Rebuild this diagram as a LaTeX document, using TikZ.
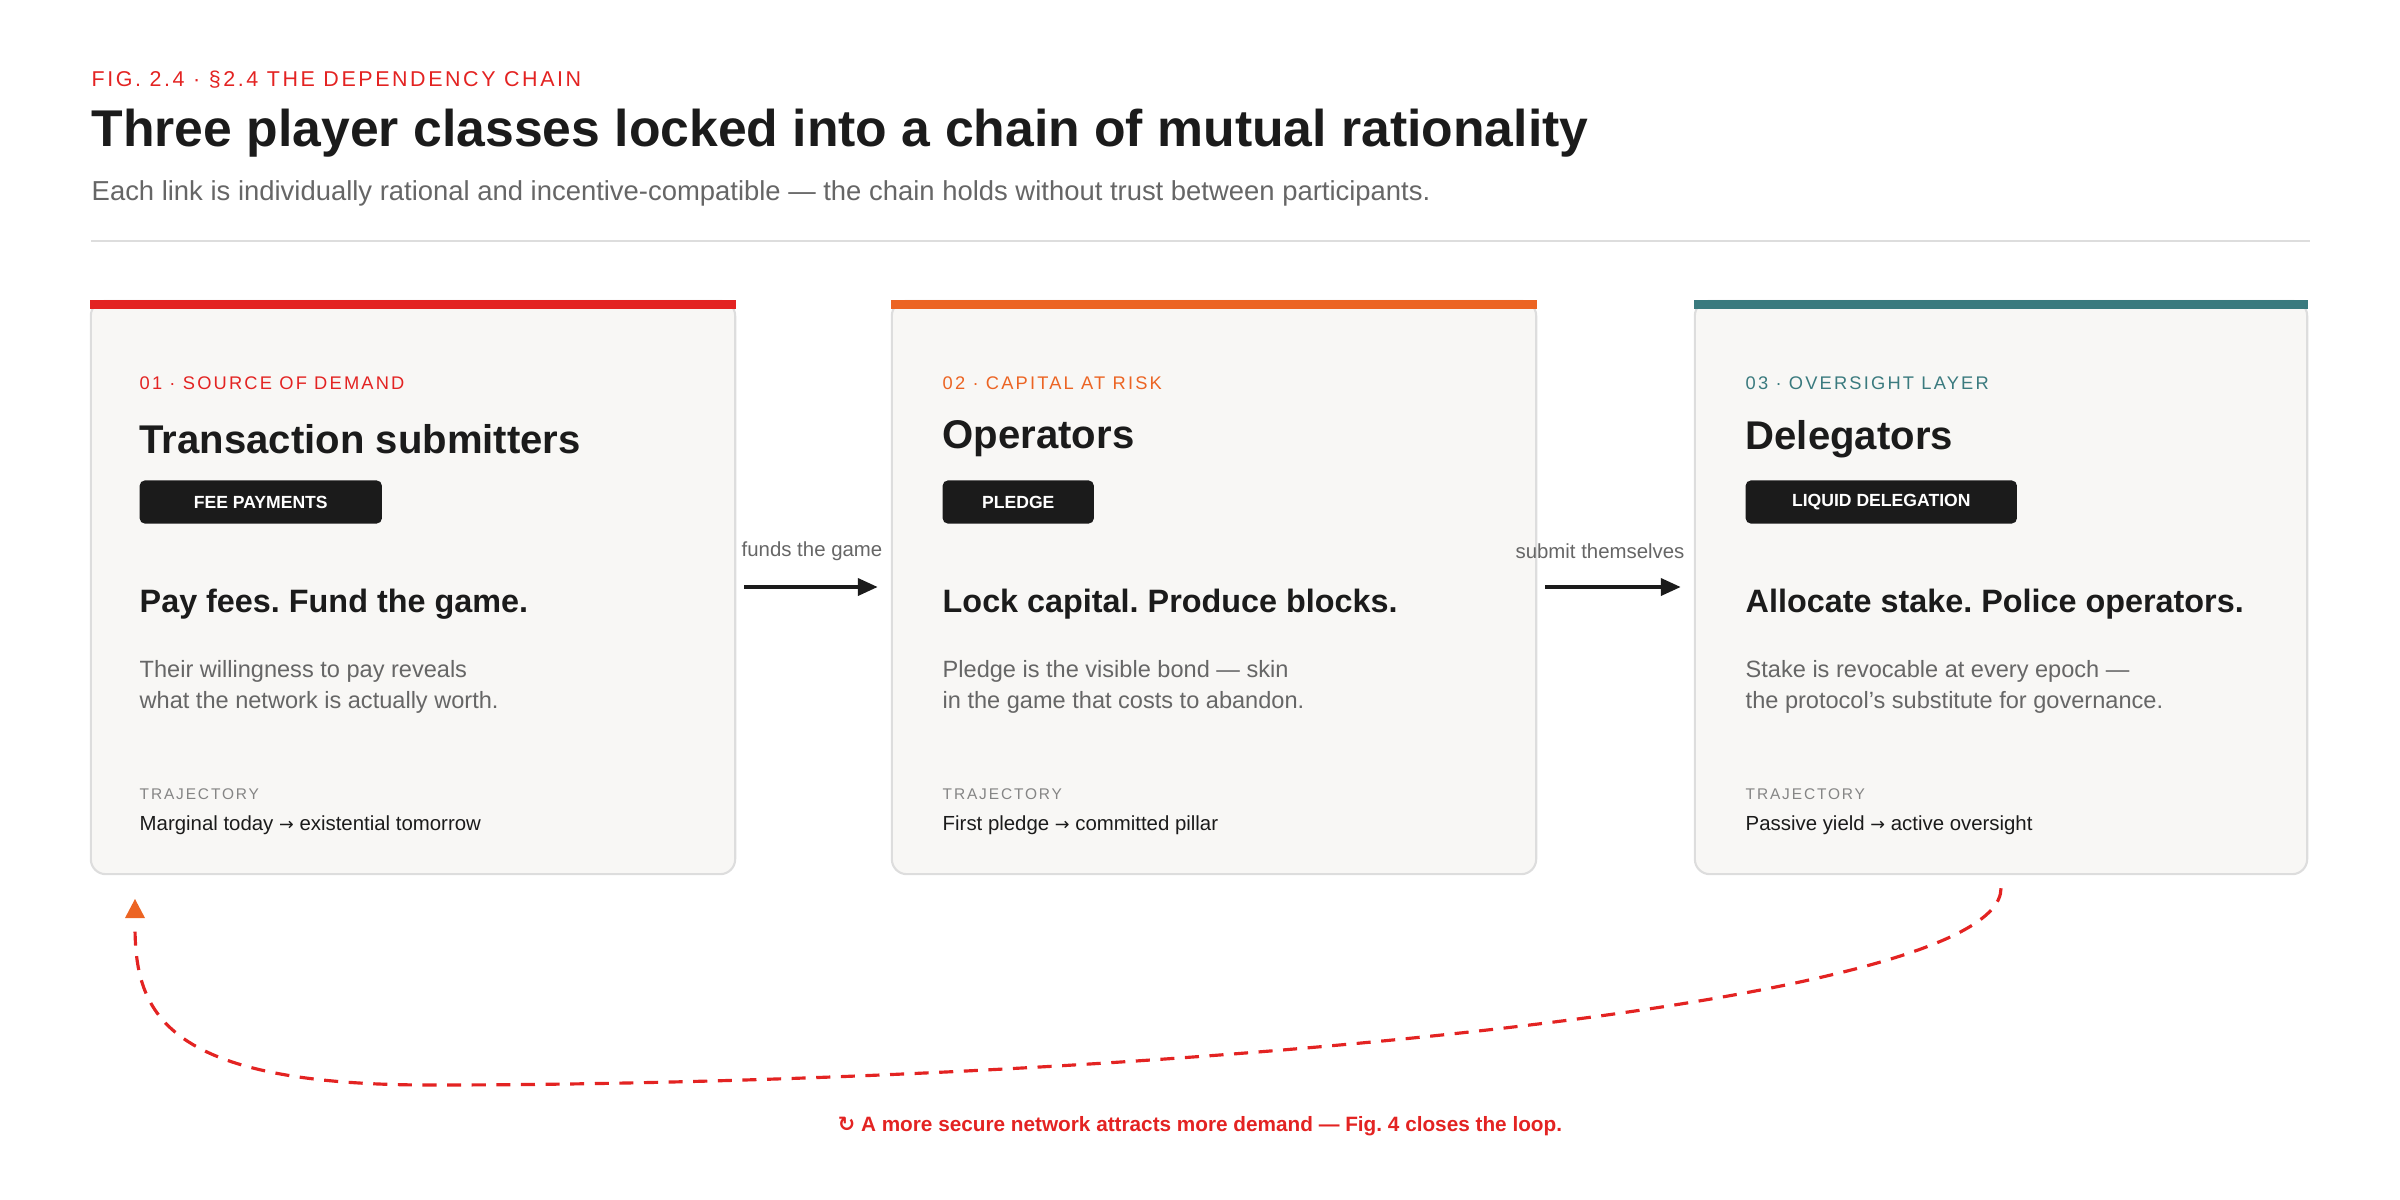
\documentclass[tikz,border=0pt]{standalone}
\usepackage{fontspec}
\setmainfont{Liberation Sans}
\newfontfamily\spaced[LetterSpace=12]{Liberation Sans}
\newfontfamily\symb{DejaVu Sans}
\usepackage{xcolor}
\definecolor{Red}{HTML}{E32322}
\definecolor{Orange}{HTML}{EC6423}
\definecolor{Teal}{HTML}{3A7A7E}
\definecolor{Paper}{HTML}{F8F7F5}
\definecolor{Edge}{HTML}{DDDDDD}
\definecolor{Ink}{HTML}{1B1B1B}
\definecolor{Grey}{HTML}{666666}
\usetikzlibrary{positioning,arrows.meta}
\newcommand{\toarrow}{{\symb\fontsize{5}{6}\selectfont →}}
\tikzset{
	card/.style={draw=Edge, line width=0.6pt, fill=Paper, rounded corners=0.15cm, minimum width=6.44cm, minimum height=5.73cm, inner sep=0pt},
	tag/.style={anchor=west, inner sep=0pt, font=\spaced\fontsize{5.2}{6}\selectfont},
	who/.style={anchor=west, inner sep=0pt, text=Ink, font=\bfseries\fontsize{11.4}{13}\selectfont},
	badge/.style={anchor=west, fill=Ink, text=white, rounded corners=0.05cm, minimum height=0.43cm, inner sep=0pt, font=\bfseries\fontsize{5}{6}\selectfont},
	motto/.style={anchor=west, inner sep=0pt, text=Ink, font=\bfseries\fontsize{9.2}{10}\selectfont},
	body/.style={anchor=north west, inner sep=0pt, text=Grey, align=left, font=\fontsize{6.7}{8.8}\selectfont},
	traj/.style={anchor=west, inner sep=0pt, text=Grey!80, font=\spaced\fontsize{4.4}{5}\selectfont},
	trajtext/.style={anchor=west, inner sep=0pt, text=Ink, font=\fontsize{5.8}{7}\selectfont},
	link/.style={-{Triangle[length=0.2cm,width=0.17cm]}, draw=Ink, line width=1.1pt, shorten <=0.08cm, shorten >=0.13cm},
	linklabel/.style={text=Grey, inner sep=0pt, font=\fontsize{5.8}{7}\selectfont}
}
\begin{document}
\frenchspacing
\begin{tikzpicture}[x=0.01cm, y=-0.01cm]
		\useasboundingbox (0,0) rectangle (2400,1200);
		
		% Header
		\node[anchor=west, inner sep=0pt, text=Red, font=\spaced\fontsize{6.1}{8}\selectfont] (fig) at (91,80) {FIG. 2.4 · §2.4 THE DEPENDENCY CHAIN};
		\node[anchor=west, inner sep=0pt, text=Ink, font=\bfseries\fontsize{14.7}{17}\selectfont] (title) at (91,133) {Three player classes locked into a chain of mutual rationality};
		\node[anchor=west, inner sep=0pt, text=Grey, font=\fontsize{7.8}{9}\selectfont] (sub) at (91,193) {Each link is individually rational and incentive-compatible — the chain holds without trust between participants.};
		\draw[Edge, line width=0.7pt] (91,241) -- (2310,241);
		
		% Cards
		\node[card] (c1) at (413,587.5) {};
		\node[card] (c2) at (1214,587.5) {};
		\node[card, minimum width=6.12cm] (c3) at (2001,587.5) {};
		\fill[Red] (c1.north west) rectangle ([yshift=-0.09cm]c1.north east);
		\fill[Orange] (c2.north west) rectangle ([yshift=-0.09cm]c2.north east);
		\fill[Teal] (c3.north west) rectangle ([yshift=-0.09cm]c3.north east);
		
		% Card 1
		\node[tag, text=Red] (t1) at (139,383) {01 · SOURCE OF DEMAND};
		\node[who] (n1) at (139,439) {Transaction submitters};
		\node[badge, minimum width=2.42cm] (b1) at (139,502) {FEE PAYMENTS};
		\node[motto] (m1) at (139,604) {Pay fees. Fund the game.};
		\node[body] (d1) at (139,660) {Their willingness to pay reveals\\what the network is actually worth.};
		\node[traj] (r1) at (139,794) {TRAJECTORY};
		\node[trajtext] (x1) at (139,825) {Marginal today \toarrow{} existential tomorrow};
		
		% Card 2
		\node[tag, text=Orange] (t2) at (942,383) {02 · CAPITAL AT RISK};
		\node[who] (n2) at (942,439) {Operators};
		\node[badge, minimum width=1.51cm] (b2) at (942,502) {PLEDGE};
		\node[motto] (m2) at (942,604) {Lock capital. Produce blocks.};
		\node[body] (d2) at (942,660) {Pledge is the visible bond — skin\\in the game that costs to abandon.};
		\node[traj] (r2) at (942,794) {TRAJECTORY};
		\node[trajtext] (x2) at (942,825) {First pledge \toarrow{} committed pillar};
		
		% Card 3
		\node[tag, text=Teal] (t3) at (1745,383) {03 · OVERSIGHT LAYER};
		\node[who] (n3) at (1745,439) {Delegators};
		\node[badge, minimum width=2.71cm] (b3) at (1745,502) {LIQUID DELEGATION};
		\node[motto] (m3) at (1745,604) {Allocate stake. Police operators.};
		\node[body] (d3) at (1745,660) {Stake is revocable at every epoch —\\the protocol's substitute for governance.};
		\node[traj] (r3) at (1745,794) {TRAJECTORY};
		\node[trajtext] (x3) at (1745,825) {Passive yield \toarrow{} active oversight};
		
		% Links
		\draw[link] (c1.east |- 0,587) -- (c2.west |- 0,587);
		\draw[link] (c2.east |- 0,587) -- (c3.west |- 0,587);
		\node[linklabel] (l1) at (812,551) {funds the game};
		\node[linklabel] (l2) at (1600,551) {submit themselves};
		
		% Loop
		\coordinate (loopstart) at ([yshift=-0.13cm]c3.south);
		\coordinate (loopend) at (135,925);
		\draw[Red, line width=0.9pt, dash pattern=on 4pt off 3pt]
			(loopstart) .. controls (2001,1010) and (1100,1085) .. (430,1085)
			.. controls (160,1085) and (135,1010) .. (loopend);
		\fill[Orange] (135,899) -- (145,918) -- (125,918) -- cycle;
		\node[text=Red, inner sep=0pt, font=\bfseries\fontsize{5.9}{7}\selectfont] (foot) at (1200,1126) {{\symb ↻} A more secure network attracts more demand — Fig. 4 closes the loop.};
		
	\end{tikzpicture}
\end{document}
